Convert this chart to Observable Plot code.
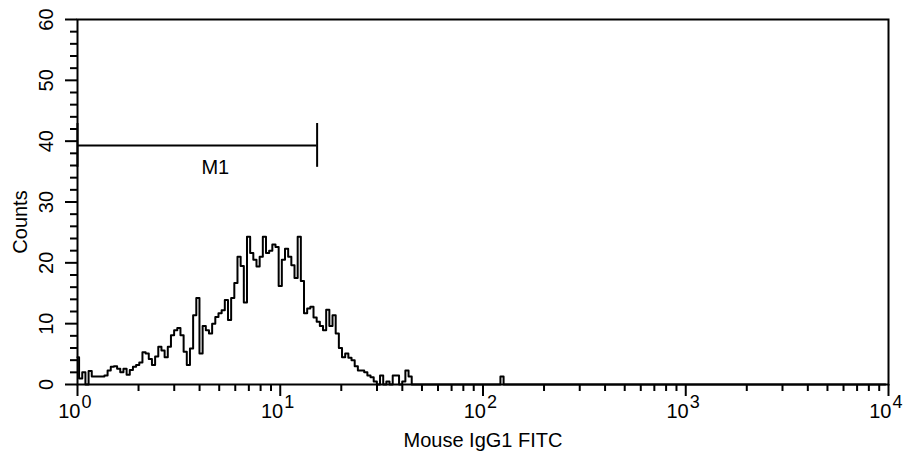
<!DOCTYPE html>
<html>
<head>
<meta charset="utf-8">
<script src="https://cdn.jsdelivr.net/npm/d3@7"></script>
<script src="https://cdn.jsdelivr.net/npm/@observablehq/plot@0.6"></script>
<style>
  html, body { margin: 0; padding: 0; background: #ffffff; }
  #chart svg { display: block; }
</style>
</head>
<body>
<div id="chart"></div>
<script>
// ---- Data (256 channels over 4 decades) ----
const channelsPerDecade = 64;
const channels = [
  0, 1, 2, 3, 4, 5, 6, 7, 8, 9,
  10, 11, 12, 13, 14, 15, 16, 17, 18, 19,
  20, 21, 22, 23, 24, 25, 26, 27, 28, 29,
  30, 31, 32, 33, 34, 35, 36, 37, 38, 39,
  40, 41, 42, 43, 44, 45, 46, 47, 48, 49,
  50, 51, 52, 53, 54, 55, 56, 57, 58, 59,
  60, 61, 62, 63, 64, 65, 66, 67, 68, 69,
  70, 71, 72, 73, 74, 75, 76, 77, 78, 79,
  80, 81, 82, 83, 84, 85, 86, 87, 88, 89,
  90, 91, 92, 93, 94, 95, 96, 97, 98, 99,
  100, 101, 102, 103, 104, 105, 106,
  133, 134, 135, 255
];
const counts = [
  4.5, 1.0, 2.0, 0, 2.2, 1.3, 1.3, 1.3, 1.3, 1.5,
  2.3, 2.9, 3.0, 2.6, 2.0, 2.6, 1.6, 2.4, 2.9, 3.2,
  3.6, 5.3, 5.1, 4.2, 3.2, 4.6, 6.2, 5.6, 4.5, 6.2,
  8.1, 8.9, 9.3, 8.1, 5.4, 3.2, 5.9, 11.4, 14.2, 5.1,
  9.6, 8.9, 8.4, 10.0, 11.1, 11.7, 12.2, 13.9, 10.6, 14.2,
  16.7, 21.0, 19.5, 13.5, 24.3, 21.6, 20.5, 19.4, 21.0, 24.3,
  21.6, 22.0, 23.0, 22.6, 16.2, 20.5, 22.3, 21.0, 19.6, 17.5,
  24.3, 17.0, 11.7, 12.5, 12.8, 11.0, 10.3, 9.6, 8.9, 12.3,
  9.6, 11.4, 8.4, 6.0, 4.5, 5.1, 4.4, 4.0, 3.0, 2.3,
  2.3, 2.0, 1.5, 1.2, 0.5, 0, 1.5, 0, 0.5, 0,
  1.5, 1.5, 0, 0.5, 2.3, 1.3, 0,
  0, 1.3, 0, 0
];

// Axis ticks and labels
const yMajorTicks = [0, 10, 20, 30, 40, 50, 60];
const yMinorTicks = [2, 4, 6, 8, 12, 14, 16, 18, 22, 24, 26, 28, 32, 34, 36, 38, 42, 44, 46, 48, 52, 54, 56, 58];
const xDecades = [1, 10, 100, 1000, 10000];
const xDecadeExponents = ["0", "1", "2", "3", "4"];
const xMinorTicks = [
  2, 3, 4, 5, 6, 7, 8, 9,
  20, 30, 40, 50, 60, 70, 80, 90,
  200, 300, 400, 500, 600, 700, 800, 900,
  2000, 3000, 4000, 5000, 6000, 7000, 8000, 9000
];
const xTitle = "Mouse IgG1 FITC";
const yTitle = "Counts";

// Marker (gate) M1
const markerNames = ["M1"];
const markerStarts = [1];
const markerEnds = [15.2];
const markerLevels = [39.3];
const markerHalfHeight = 3.6;

// ---- Build tables ----
const histogram = channels.map((c, i) => ({value: Math.pow(10, c / channelsPerDecade), count: counts[i]}));
const markers = markerNames.map((name, i) => ({name, start: markerStarts[i], end: markerEnds[i], level: markerLevels[i]}));
const markerEdges = markers.flatMap(m => [
  {x: m.start, y1: m.level - markerHalfHeight, y2: m.level + markerHalfHeight},
  {x: m.end, y1: m.level - markerHalfHeight, y2: m.level + markerHalfHeight}
]);
const decadeLabels = xDecades.map((d, i) => ({value: d, exp: xDecadeExponents[i]}));

// ---- Layout ----
const W = 910, H = 460;
const mTop = 19, mRight = 22, mBottom = 76, mLeft = 77;
const frameW = W - mLeft - mRight;
const frameH = H - mTop - mBottom;
const majorLen = 12, minorLen = 7;
const font = "'Liberation Sans', Arial, Helvetica, sans-serif";

const chart = Plot.plot({
  width: W,
  height: H,
  marginTop: mTop,
  marginRight: mRight,
  marginBottom: mBottom,
  marginLeft: mLeft,
  style: {fontFamily: font, fontSize: "20px", background: "#ffffff", color: "#000", overflow: "visible"},
  x: {type: "log", domain: [1, 10000], axis: null},
  y: {domain: [0, 60], axis: null},
  marks: [
    // histogram (step)
    Plot.line(histogram, {x: "value", y: "count", curve: "step", stroke: "#000", strokeWidth: 2}),
    // frame
    Plot.frame({stroke: "#000", strokeWidth: 2}),
    // y ticks (outside left)
    Plot.ruleY(yMajorTicks, {y: d => d, insetRight: frameW - majorLen, dx: -majorLen, stroke: "#000", strokeWidth: 2}),
    Plot.ruleY(yMinorTicks, {y: d => d, insetRight: frameW - minorLen, dx: -minorLen, stroke: "#000", strokeWidth: 2}),
    // x ticks (outside bottom)
    Plot.ruleX(xDecades, {x: d => d, insetTop: frameH - majorLen, dy: majorLen, stroke: "#000", strokeWidth: 2}),
    Plot.ruleX(xMinorTicks, {x: d => d, insetTop: frameH - minorLen, dy: minorLen, stroke: "#000", strokeWidth: 2}),
    // y tick labels (rotated)
    Plot.text(yMajorTicks, {y: d => d, text: d => String(d), frameAnchor: "left", textAnchor: "middle", lineAnchor: "middle", dx: -31, rotate: -90, fontSize: 20, fill: "#000"}),
    // x tick labels: 10 with superscript exponent
    Plot.text(decadeLabels, {x: "value", text: () => "10", frameAnchor: "bottom", textAnchor: "end", lineAnchor: "middle", dx: 3, dy: 27, fontSize: 20, fill: "#000"}),
    Plot.text(decadeLabels, {x: "value", text: "exp", frameAnchor: "bottom", textAnchor: "start", lineAnchor: "middle", dx: 4, dy: 18, fontSize: 18, fill: "#000"}),
    // axis titles
    Plot.text([xTitle], {text: d => d, frameAnchor: "bottom", textAnchor: "middle", lineAnchor: "middle", dy: 56, fontSize: 20, fill: "#000"}),
    Plot.text([yTitle], {text: d => d, frameAnchor: "left", textAnchor: "middle", lineAnchor: "middle", dx: -57, dy: 20, rotate: -90, fontSize: 20, fill: "#000"}),
    // marker M1
    Plot.ruleY(markers, {y: "level", x1: "start", x2: "end", stroke: "#000", strokeWidth: 2}),
    Plot.ruleX(markerEdges, {x: "x", y1: "y1", y2: "y2", stroke: "#000", strokeWidth: 2}),
    Plot.text(markers, {x: d => Math.sqrt(d.start * d.end), y: "level", text: "name", lineAnchor: "middle", dx: 18, dy: 22, fontSize: 20, fill: "#000"})
  ]
});
document.getElementById("chart").appendChild(chart);
</script>
</body>
</html>
